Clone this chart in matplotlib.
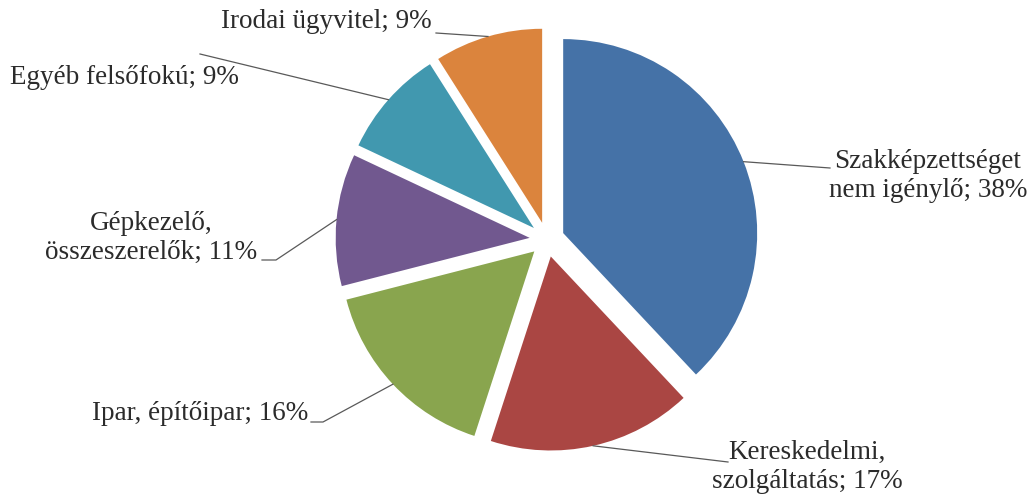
import numpy as np
import matplotlib
matplotlib.use("Agg")
import matplotlib.pyplot as plt

# adatok
labels = ["Szakképzettséget\nnem igénylő", "Kereskedelmi,\nszolgáltatás", "Ipar, építőipar",
          "Gépkezelő,\nösszeszerelők", "Egyéb felsőfokú", "Irodai ügyvitel"]
values = [38, 17, 16, 11, 9, 9]
colors = ["#4572A7", "#AA4643", "#89A54E", "#71588F", "#4198AF", "#DB843D"]

W, H = 1032, 500
fig = plt.figure(figsize=(W / 100, H / 100), dpi=100)
ax = fig.add_axes([0, 0, 1, 1])

cx, cy, r = 547, 260.5, 194
# explode abszolút egységben (pixel), nem a sugár arányában
wedges, _ = ax.pie(values, colors=colors, startangle=90, counterclock=False,
                   radius=r, center=(cx, cy), explode=[17.4] * len(values),
                   frame=True)
ax.set_xlim(0, W)
ax.set_ylim(0, H)
ax.set_aspect("equal")
ax.axis("off")

# címke helyek: (szöveg x, y, igazítás, vonal kezdete, könyökpont)
layout = [
    (928, 324, "center", (830, 332), None),
    (807, 33, "center", (728, 38), None),
    (308, 86, "right", (311, 78), (323, 78)),
    (151, 262, "center", (262, 240), (276, 240)),
    (10, 422, "left", (200, 446), None),
    (432, 478, "right", (436, 467), None),
]

font = dict(family="Liberation Serif", size=19.5, color="#2b2b2b")
for w, lab, v, (tx, ty, ha, p0, elbow) in zip(wedges, labels, values, layout):
    mid = np.deg2rad((w.theta1 + w.theta2) / 2)
    wx, wy = w.center
    ex, ey = wx + w.r * np.cos(mid), wy + w.r * np.sin(mid)
    pts = [p0] + ([elbow] if elbow else []) + [(ex, ey)]
    xs, ys = zip(*pts)
    ax.plot(xs, ys, color="#595959", lw=0.9)
    ax.text(tx, ty, f"{lab}; {v}%", ha=ha, va="center", multialignment="center",
            linespacing=1.25, **font)

fig.savefig("out.png", dpi=100)
